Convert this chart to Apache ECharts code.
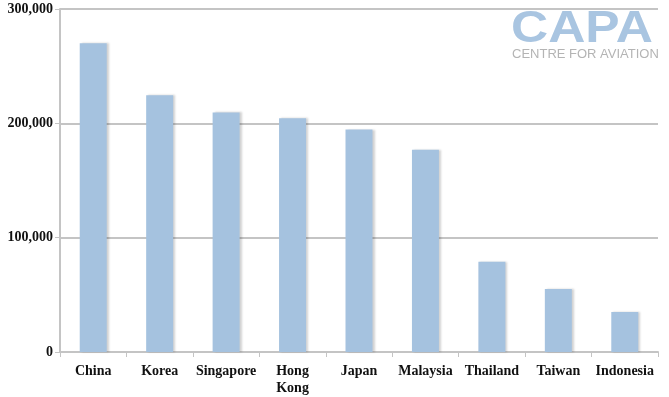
<!DOCTYPE html>
<html>
<head>
<meta charset="utf-8">
<script src="https://cdn.jsdelivr.net/npm/echarts@6/dist/echarts.min.js"></script>
<style>
  html, body { margin: 0; padding: 0; background: #fff; }
  #chart { width: 669px; height: 397px; }
</style>
</head>
<body>
<div id="chart"></div>
<script>
// data
var countries = ["China", "Korea", "Singapore", "Hong\nKong", "Japan", "Malaysia", "Thailand", "Taiwan", "Indonesia"];
var seats = [270000, 224500, 209500, 204500, 194500, 177000, 79000, 55000, 35000];
var yTicks = [0, 100000, 200000, 300000];

var chart = echarts.init(document.getElementById("chart"));

var labelFont = {
  color: "#111",
  fontFamily: "Liberation Serif",
  fontWeight: "bold",
  fontSize: 14
};

var option = {
  animation: false,
  grid: { left: 60, right: 11, top: 9, bottom: 45 },
  xAxis: {
    type: "category",
    data: countries,
    axisLine: { lineStyle: { color: "#c4c4c4", width: 2 } },
    axisTick: { show: true, length: 5, lineStyle: { color: "#c4c4c4", width: 1 } },
    axisLabel: Object.assign({ margin: 11, lineHeight: 17, interval: 0 }, labelFont),
    splitLine: { show: false }
  },
  yAxis: {
    type: "value",
    min: 0,
    max: 300000,
    interval: 100000,
    axisLine: { show: true, lineStyle: { color: "#c4c4c4", width: 2 } },
    axisTick: { show: true, length: 5, lineStyle: { color: "#c4c4c4" } },
    axisLabel: Object.assign({
      margin: 7,
      formatter: function (v) {
        return yTicks.indexOf(v) >= 0 ? v.toLocaleString("en-US") : "";
      }
    }, labelFont),
    splitLine: { show: true, lineStyle: { color: "#c4c4c4", width: 2 } }
  },
  series: [
    {
      type: "bar",
      data: seats,
      barWidth: 27,
      itemStyle: {
        color: "#a5c2df",
        shadowColor: "rgba(0,0,0,0.18)",
        shadowBlur: 2,
        shadowOffsetX: 2,
        shadowOffsetY: 0
      }
    }
  ],
  graphic: [
    {
      type: "text",
      left: 511,
      top: 8,
      scaleX: 1.17,
      style: {
        text: "CAPA",
        fill: "#a9c5e1",
        font: "bold 44px 'Liberation Sans'",
        letterSpacing: -1
      }
    },
    {
      type: "text",
      left: 512,
      top: 48,
      style: {
        text: "CENTRE FOR AVIATION",
        fill: "#b4b4b4",
        font: "13px 'Liberation Sans'"
      }
    }
  ]
};

chart.setOption(option);
</script>
</body>
</html>
